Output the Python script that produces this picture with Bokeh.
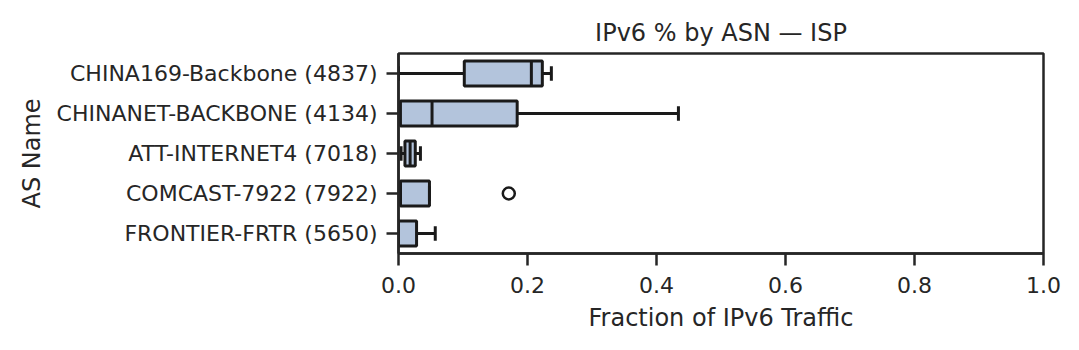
from bokeh.plotting import figure
from bokeh.models import FactorRange, Range1d, FixedTicker, ColumnDataSource, PrintfTickFormatter
from bokeh.transform import dodge
from bokeh.embed import file_html
from bokeh.resources import INLINE

# ---- data ----
categories = [
    "CHINA169-Backbone (4837)",
    "CHINANET-BACKBONE (4134)",
    "ATT-INTERNET4 (7018)",
    "COMCAST-7922 (7922)",
    "FRONTIER-FRTR (5650)",
]
whisker_low = [0.000, 0.000, 0.004, 0.003, 0.000]
q1 = [0.102, 0.003, 0.010, 0.003, 0.000]
median = [0.206, 0.052, 0.018, 0.003, 0.000]
q3 = [0.223, 0.184, 0.026, 0.048, 0.028]
whisker_high = [0.237, 0.434, 0.034, 0.048, 0.057]
outlier_cat = ["COMCAST-7922 (7922)"]
outlier_val = [0.171]
x_ticks = [0.0, 0.2, 0.4, 0.6, 0.8, 1.0]

TEXT = "#262626"
EDGE = "#1a1a1a"
FILL = "#b3c4dc"
FONT = "DejaVu Sans"

src = ColumnDataSource(dict(cat=categories, wl=whisker_low, q1=q1, med=median,
                            q3=q3, wh=whisker_high))

p = figure(width=1063, height=334, output_backend="svg", toolbar_location=None,
           y_range=FactorRange(*reversed(categories)), x_range=Range1d(0, 1),
           title="IPv6 % by ASN \u2014 ISP",
           min_border_left=398, min_border_right=20, min_border_top=53, min_border_bottom=81)

p.title.align = "center"
p.title.text_font = FONT
p.title.text_font_size = "24px"
p.title.text_font_style = "normal"
p.title.text_color = TEXT
p.title.standoff = 14

p.xgrid.visible = False
p.ygrid.visible = False
p.outline_line_color = TEXT
p.outline_line_width = 2.5
p.outline_line_alpha = 1.0

for ax in (p.xaxis[0], p.yaxis[0]):
    ax.axis_line_color = TEXT
    ax.axis_line_width = 2.5
    ax.major_tick_line_color = TEXT
    ax.major_tick_line_width = 2.5
    ax.major_tick_out = 12
    ax.major_tick_in = 0
    ax.minor_tick_line_color = None
    ax.major_label_text_font = FONT
    ax.major_label_text_font_size = "22px"
    ax.major_label_text_color = TEXT
    ax.axis_label_text_font = FONT
    ax.axis_label_text_font_size = "24px"
    ax.axis_label_text_font_style = "normal"
    ax.axis_label_text_color = TEXT

p.xaxis.ticker = FixedTicker(ticks=x_ticks)
p.xaxis.formatter = PrintfTickFormatter(format="%.1f")
p.xaxis.axis_label = "Fraction of IPv6 Traffic"
p.xaxis.major_label_standoff = 11
p.xaxis.axis_label_standoff = 8
p.yaxis.axis_label = "AS Name"
p.yaxis.major_label_standoff = 9
p.yaxis.axis_label_standoff = 8

LW = 3
# whiskers
p.segment(x0="wl", y0="cat", x1="q1", y1="cat", source=src, line_color=EDGE, line_width=LW)
p.segment(x0="q3", y0="cat", x1="wh", y1="cat", source=src, line_color=EDGE, line_width=LW)
# boxes
p.hbar(y="cat", left="q1", right="q3", height=0.62, source=src,
       fill_color=FILL, line_color=EDGE, line_width=LW)
# medians
p.segment(x0="med", y0=dodge("cat", -0.31, range=p.y_range),
          x1="med", y1=dodge("cat", 0.31, range=p.y_range),
          source=src, line_color=EDGE, line_width=LW)
# caps
for col in ("wl", "wh"):
    p.segment(x0=col, y0=dodge("cat", -0.18, range=p.y_range),
              x1=col, y1=dodge("cat", 0.18, range=p.y_range),
              source=src, line_color=EDGE, line_width=LW)
# outliers
p.scatter(x=outlier_val, y=outlier_cat, marker="circle", size=12,
          fill_color="white", line_color=EDGE, line_width=2.5)

open("out.html", "w").write(file_html(p, INLINE))
